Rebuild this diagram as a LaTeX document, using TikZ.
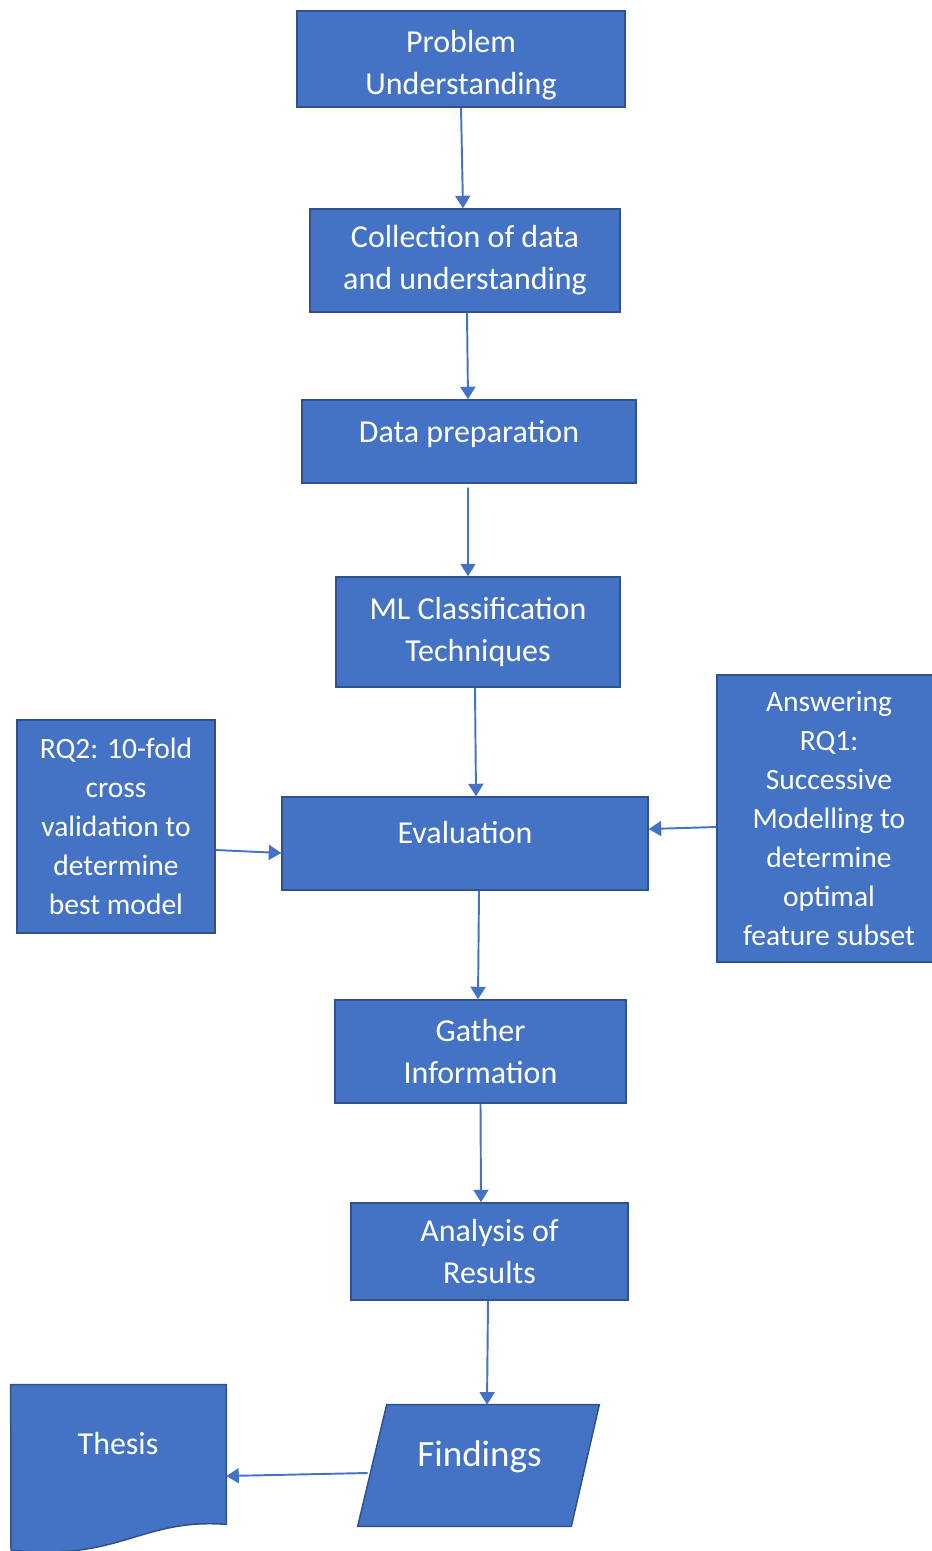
\documentclass[tikz,border=0pt]{standalone}
\usepackage{fontspec}
\setmainfont{Carlito}
\usepackage{xcolor}
\usepackage{tikz}
\usetikzlibrary{arrows.meta}

\definecolor{stepblue}{HTML}{4472C4}
\definecolor{stepedge}{HTML}{2F528F}

\begin{document}
\begin{tikzpicture}[
        x=0.02cm, y=-0.02cm,
        shapeline/.style={
            draw=stepedge,
            fill=stepblue,
            line width=0.85pt
        },
        box/.style={
            shapeline,
            rectangle,
            text=white,
            align=center,
            inner sep=0pt,
            font=\fontsize{18.2}{23.9}\selectfont
        },
        sidebox/.style={
            box,
            font=\fontsize{16.8}{22.2}\selectfont
        },
        body/.style={
            rectangle,
            inner sep=0pt
        },
        bodytext/.style={
            text=white,
            font=\fontsize{18.2}{23.9}\selectfont
        },
        arrow/.style={
            -{Triangle[width=0.3cm,length=0.25cm]},
            stepblue,
            line width=1.1pt
        }
    ]
    \useasboundingbox (0,0) rectangle (931,1551);

    \node[box, minimum width=6.56cm, minimum height=1.92cm, text height=1.54cm] (problem) at (461,59) {Problem\\Understanding};
    \node[box, minimum width=6.2cm, minimum height=2.06cm] (collection) at (465,260.5) {Collection of data\\and understanding};
    \node[box, minimum width=6.68cm, minimum height=1.66cm, text depth=0.41cm] (preparation) at (469,441.5) {Data preparation};
    \node[box, minimum width=5.68cm, minimum height=2.2cm] (techniques) at (478,632) {ML Classification\\Techniques};
    \node[box, minimum width=7.32cm, minimum height=1.86cm, text depth=0.45cm] (evaluation) at (465,843.5) {Evaluation};
    \node[sidebox, minimum width=3.96cm, minimum height=4.26cm] (crossval) at (116,826.5) {RQ2: 10-fold\\cross\\validation to\\determine\\best model};
    \node[sidebox, minimum width=4.48cm, minimum height=5.74cm] (featsub) at (829,818.5) {Answering\\RQ1:\\Successive\\Modelling to\\determine\\optimal\\feature subset};
    \node[box, minimum width=5.82cm, minimum height=2.06cm] (gather) at (480.5,1051.5) {Gather\\Information};
    \node[box, minimum width=5.54cm, minimum height=1.94cm] (analysis) at (489.5,1251.5) {Analysis of\\Results};

    % findings as a slanted data box
    \node[body, minimum width=4.82cm, minimum height=2.42cm] (findings) at (478.5,1465.5) {};
    \draw[shapeline] ([xshift=0.58cm]findings.north west) -- (findings.north east)
        -- ([xshift=-0.56cm]findings.south east) -- (findings.south west) -- cycle;
    \node[bodytext, font=\fontsize{21.1}{26}\selectfont] (findingslabel) at (479.5,1457) {Findings};

    % document shape for the thesis
    \node[body, minimum width=4.3cm, minimum height=2.78cm] (thesis) at (118.5,1454.5) {};
    \draw[shapeline] (thesis.north west) -- (thesis.north east) -- (thesis.south east)
        .. controls (140,1518) and (120,1562) .. (11,1550) -- cycle;
    \node[bodytext] (thesislabel) at (118,1443) {Thesis};

    \draw[arrow] (problem.south) -- ([xshift=-0.04cm]collection.north);
    \draw[arrow] ([xshift=0.04cm]collection.south) -- ([xshift=-0.02cm]preparation.north);
    \draw[arrow] ([xshift=-0.02cm,yshift=-0.08cm]preparation.south) -- ([xshift=-0.2cm]techniques.north);
    \draw[arrow] ([xshift=-0.06cm]techniques.south) -- ([xshift=0.22cm]evaluation.north);
    \draw[arrow] ([yshift=-0.47cm]crossval.east) -- ([yshift=-0.19cm]evaluation.west);
    \draw[arrow] ([yshift=-0.17cm]featsub.west) -- ([yshift=0.29cm]evaluation.east);
    \draw[arrow] ([xshift=0.28cm]evaluation.south) -- ([xshift=-0.05cm]gather.north);
    \draw[arrow] (gather.south) -- ([xshift=-0.17cm]analysis.north);
    \draw[arrow] ([xshift=-0.03cm]analysis.south) -- ([xshift=0.17cm]findings.north);
    \draw[arrow] ([xshift=0.2cm,yshift=-0.15cm]findings.west) -- ([yshift=-0.43cm]thesis.east);

\end{tikzpicture}
\end{document}
